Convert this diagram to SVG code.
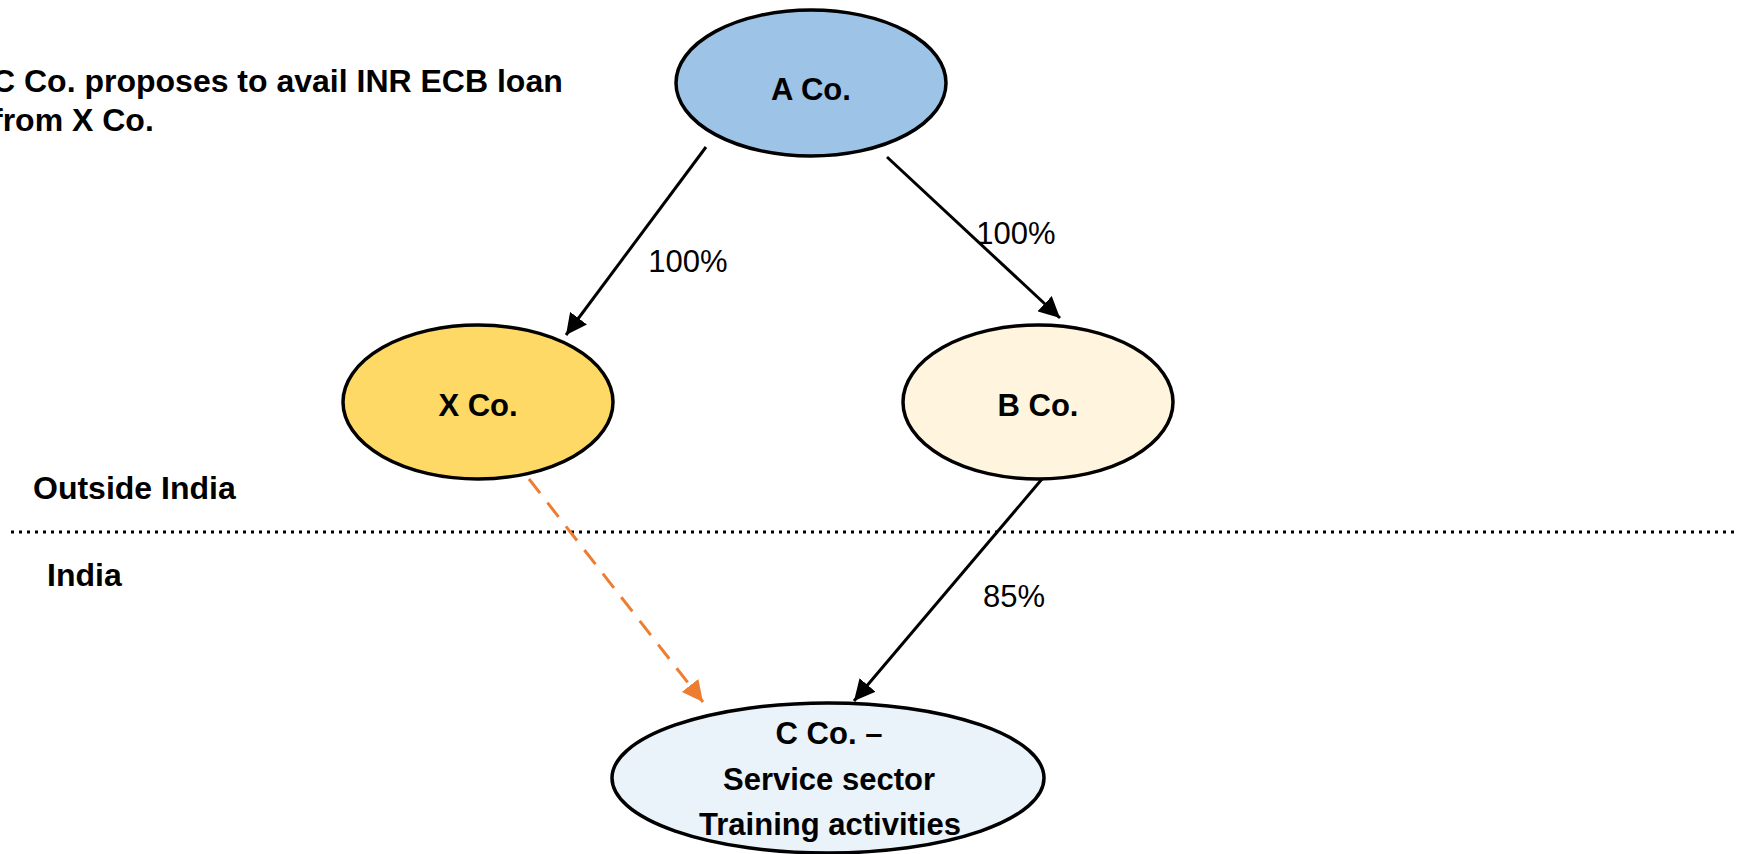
<svg xmlns="http://www.w3.org/2000/svg" width="1739" height="854" viewBox="0 0 1739 854">
<defs>
<style>
.node{stroke:#000;stroke-width:3.5}
.lbl{font-family:"Liberation Sans",Arial,sans-serif;font-weight:bold;font-size:31px;fill:#000;text-anchor:middle}
.txt{font-family:"Liberation Sans",Arial,sans-serif;font-weight:bold;font-size:32px;fill:#000}
.pct{font-family:"Liberation Sans",Arial,sans-serif;font-size:31px;fill:#000;text-anchor:middle}
.conn{stroke:#000;stroke-width:3;fill:none}
.dash{stroke:#ED7D31;stroke-width:3;fill:none;stroke-dasharray:18 12}
</style>
<marker id="ah" viewBox="0 0 10 10" refX="10" refY="5" markerWidth="7" markerHeight="7" orient="auto" markerUnits="strokeWidth"><path d="M0,0 L10,5 L0,10 z" fill="#000"/></marker>
<marker id="ao" viewBox="0 0 10 10" refX="10" refY="5" markerWidth="7" markerHeight="7" orient="auto" markerUnits="strokeWidth"><path d="M0,0 L10,5 L0,10 z" fill="#ED7D31"/></marker>
</defs>
<rect width="1739" height="854" fill="#fff"/>
<g id="title">
<text class="txt" x="-8" y="92">C Co. proposes to avail INR ECB loan</text>
<text class="txt" x="-8" y="131">from X Co.</text>
</g>
<g id="boundary">
<line x1="11" y1="532" x2="1739" y2="532" stroke="#000" stroke-width="3" stroke-dasharray="3 5"/>
<text class="txt" x="33" y="499">Outside India</text>
<text class="txt" x="47" y="586">India</text>
</g>
<g id="connectors">
<line class="conn" x1="706" y1="147" x2="566" y2="335" marker-end="url(#ah)"/>
<line class="conn" x1="887" y1="157" x2="1060" y2="318" marker-end="url(#ah)"/>
<line class="conn" x1="1042" y1="479" x2="854" y2="701" marker-end="url(#ah)"/>
<line class="dash" x1="529" y1="479" x2="703" y2="702" marker-end="url(#ao)"/>
<text class="pct" x="688" y="272">100%</text>
<text class="pct" x="1016" y="244">100%</text>
<text class="pct" x="1014" y="607">85%</text>
</g>
<g id="nodeA">
<ellipse class="node" cx="811" cy="83" rx="135" ry="73" fill="#9DC3E6"/>
<text class="lbl" x="811" y="100">A Co.</text>
</g>
<g id="nodeX">
<ellipse class="node" cx="478" cy="402" rx="135" ry="77" fill="#FFD966"/>
<text class="lbl" x="478" y="416">X Co.</text>
</g>
<g id="nodeB">
<ellipse class="node" cx="1038" cy="402" rx="135" ry="77" fill="#FFF5DE"/>
<text class="lbl" x="1038" y="416">B Co.</text>
</g>
<g id="nodeC">
<ellipse class="node" cx="828" cy="778" rx="216" ry="75" fill="#EAF2FA"/>
<text class="lbl" x="829" y="744">C Co. –</text>
<text class="lbl" x="829" y="790">Service sector</text>
<text class="lbl" x="830" y="835">Training activities</text>
</g>
</svg>
